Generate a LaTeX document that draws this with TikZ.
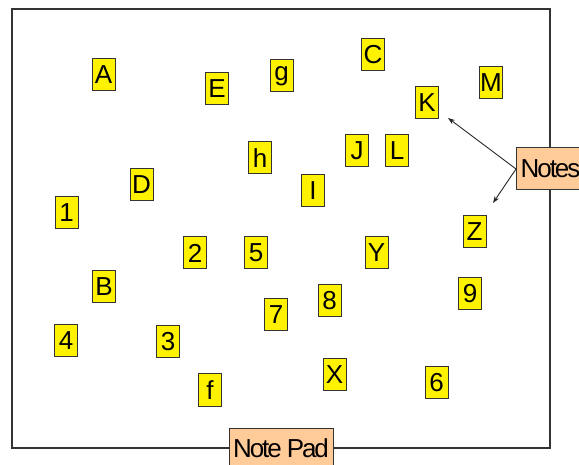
\documentclass[tikz,border=0pt]{standalone}
\usepackage{fontspec}
\setmainfont{Liberation Sans}
\newfontfamily\tightfont[LetterSpace=-8]{Liberation Sans}
\usetikzlibrary{arrows.meta}
\definecolor{tagyellow}{HTML}{FFF200}
\definecolor{padpeach}{HTML}{FFCC99}
\definecolor{edgegray}{HTML}{333333}

\begin{document}
\begin{tikzpicture}[
  x=1pt,y=-1pt,
  font=\fontsize{26}{30}\selectfont,
  frame/.style={draw=edgegray,line width=1.3pt,inner sep=0pt,minimum width=538pt,minimum height=439pt},
  tag/.style={draw=edgegray,line width=1pt,fill=tagyellow,inner sep=0pt,minimum width=23pt,minimum height=32pt},
  callout/.style={draw=edgegray,line width=1pt,fill=padpeach,inner sep=0pt,font=\fontsize{26}{30}\selectfont\tightfont},
  sig/.style={-{Stealth[length=7pt,width=5pt]},line width=0.9pt,draw=black!85},
]
\clip (0,0) rectangle (579,465);
\node[frame] (pad) at (281,228.5) {};

%% notes on the pad
\node[tag] (tA) at (103.5,75) {A};
\node[tag] (tE) at (217,89) {E};
\node[tag] (tg) at (281.5,76) {g};
\node[tag] (tC) at (373,55) {C};
\node[tag] (tM) at (491,83) {M};
\node[tag] (tK) at (427,103) {K};
\node[tag] (th) at (260,158) {h};
\node[tag] (tJ) at (357,151) {J};
\node[tag] (tL) at (397,151) {L};
\node[tag] (tD) at (141.5,185) {D};
\node[tag] (tI) at (313,191) {I};
\node[tag] (t1) at (66.5,213) {1};
\node[tag] (tZ) at (474.5,232) {Z};
\node[tag] (t2) at (195,253) {2};
\node[tag] (t5) at (256,253) {5};
\node[tag] (tY) at (376.5,253) {Y};
\node[tag] (tB) at (104,287) {B};
\node[tag] (t9) at (470,294) {9};
\node[tag] (t8) at (329.5,301) {8};
\node[tag] (t7) at (276,315) {7};
\node[tag] (t4) at (66,341) {4};
\node[tag] (t3) at (168,342) {3};
\node[tag] (tX) at (334.5,375) {X};
\node[tag] (t6) at (436.5,383) {6};
\node[tag] (tf) at (210,390) {f};

%% callouts
\node[callout,minimum width=104pt,minimum height=40pt] (notepad) at (pad.south) {Note Pad};
\node[callout,anchor=west,minimum width=68pt,minimum height=42pt] (notes) at (516,169) {Notes};
\coordinate (tipK) at (448,118);
\coordinate (tipZ) at (493,203);
\draw[sig] (notes.west) -- (tipK);
\draw[sig] (notes.west) -- (tipZ);
\end{tikzpicture}
\end{document}
